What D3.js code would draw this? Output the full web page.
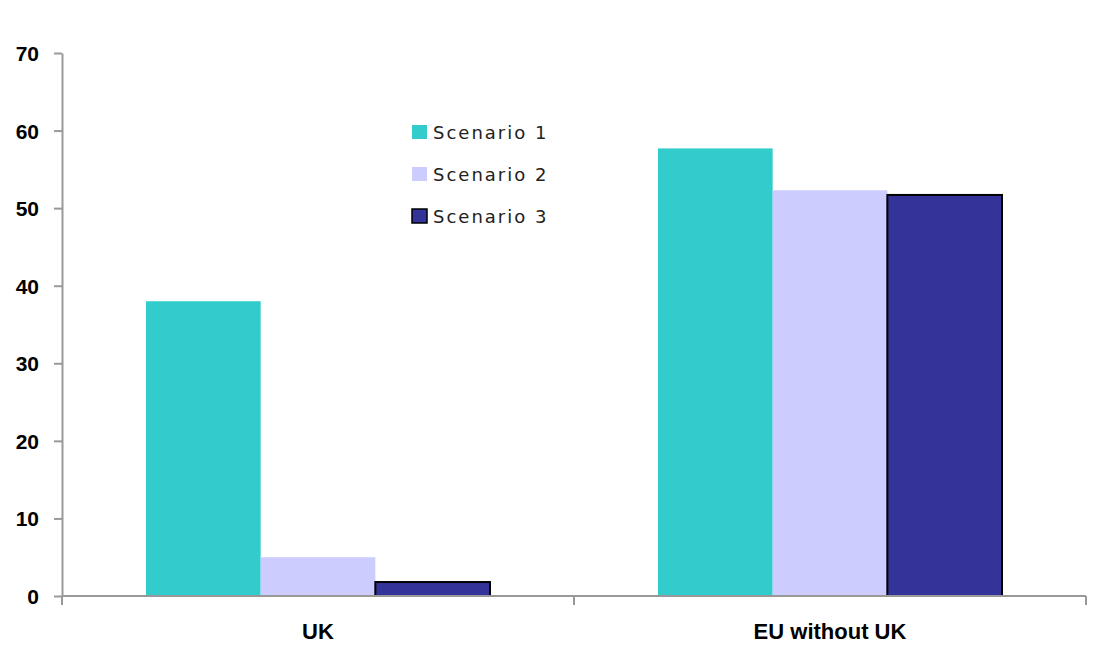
<!DOCTYPE html>
<html>
<head>
<meta charset="utf-8">
<script src="https://cdn.jsdelivr.net/npm/d3@7"></script>
<style>
  html, body { margin: 0; padding: 0; background: #fff; }
  svg { display: block; }
  .tick text { font-family: "Liberation Sans", Arial, sans-serif; font-weight: bold; }
</style>
</head>
<body>
<svg id="chart" width="1097" height="653"></svg>
<script>
// Categories, series and values
const categories = ["UK", "EU without UK"];
const seriesNames = ["Scenario 1", "Scenario 2", "Scenario 3"];
const scenario1 = [38, 57.7];
const scenario2 = [5, 52.3];
const scenario3 = [1.8, 51.7];
const yTicks = [0, 10, 20, 30, 40, 50, 60, 70];

const seriesValues = [scenario1, scenario2, scenario3];
const colors = ["#33CCCC", "#CCCCFF", "#333399"];
const strokes = ["none", "none", "#000"];

const svg = d3.select("#chart");
const plotLeft = 62, plotRight = 1086, plotTop = 53, plotBottom = 596;

const x = d3.scaleBand().domain(categories).range([plotLeft, plotRight]).padding(0);
const inner = d3.scaleBand().domain(seriesNames)
  .range([84, x.bandwidth() - 84]).padding(0);
const y = d3.scaleLinear().domain([0, 70]).range([plotBottom, plotTop]);

// Bars
const rows = categories.map((c, i) => seriesNames.map((s, j) => ({ c, s, j, v: seriesValues[j][i] })));
svg.append("g").selectAll("g").data(rows).join("g")
  .attr("transform", d => `translate(${x(d[0].c)},0)`)
  .selectAll("rect").data(d => d).join("rect")
  .attr("x", d => inner(d.s))
  .attr("width", inner.bandwidth())
  .attr("y", d => y(d.v))
  .attr("height", d => y(0) - y(d.v))
  .attr("fill", d => colors[d.j])
  .attr("stroke", d => strokes[d.j])
  .attr("stroke-width", 2);

// Y axis
const yAxis = svg.append("g").attr("transform", `translate(${plotLeft},0)`)
  .call(d3.axisLeft(y).tickValues(yTicks).tickSize(8).tickPadding(15).tickSizeOuter(0));
yAxis.select(".domain").attr("stroke", "#999").attr("stroke-width", 2);
yAxis.selectAll(".tick line").attr("stroke", "#999").attr("stroke-width", 2);
yAxis.selectAll(".tick text").attr("font-size", 21).attr("fill", "#000").attr("dy", "0.36em");

// X axis: ticks at category boundaries
const xAxisG = svg.append("g").attr("transform", `translate(0,${plotBottom})`);
xAxisG.append("line").attr("x1", plotLeft).attr("x2", plotRight).attr("stroke", "#999").attr("stroke-width", 2);
const boundaries = categories.map(c => x(c)).concat([x(categories[categories.length - 1]) + x.bandwidth()]);
xAxisG.selectAll("line.b").data(boundaries).join("line").attr("class", "b")
  .attr("x1", d => d).attr("x2", d => d).attr("y1", 0).attr("y2", 9)
  .attr("stroke", "#999").attr("stroke-width", 2);
xAxisG.selectAll("text").data(categories).join("text")
  .attr("x", d => x(d) + x.bandwidth() / 2)
  .attr("y", 43)
  .attr("text-anchor", "middle")
  .attr("font-family", "'Liberation Sans', Arial, sans-serif")
  .attr("font-weight", "bold")
  .attr("font-size", 22)
  .attr("fill", "#000")
  .text(d => d);

// Legend
const legend = svg.append("g").attr("transform", "translate(412,125)");
const items = legend.selectAll("g").data(seriesNames).join("g")
  .attr("transform", (d, i) => `translate(0,${i * 42})`);
items.append("rect").attr("width", 15).attr("height", 14)
  .attr("fill", (d, i) => colors[i])
  .attr("stroke", (d, i) => strokes[i])
  .attr("stroke-width", 1.5);
items.append("text").attr("x", 21).attr("y", 14)
  .attr("font-family", "'DejaVu Sans', Verdana, sans-serif")
  .attr("font-size", 18)
  .attr("letter-spacing", 2)
  .attr("fill", "#222")
  .text(d => d);
</script>
</body>
</html>
